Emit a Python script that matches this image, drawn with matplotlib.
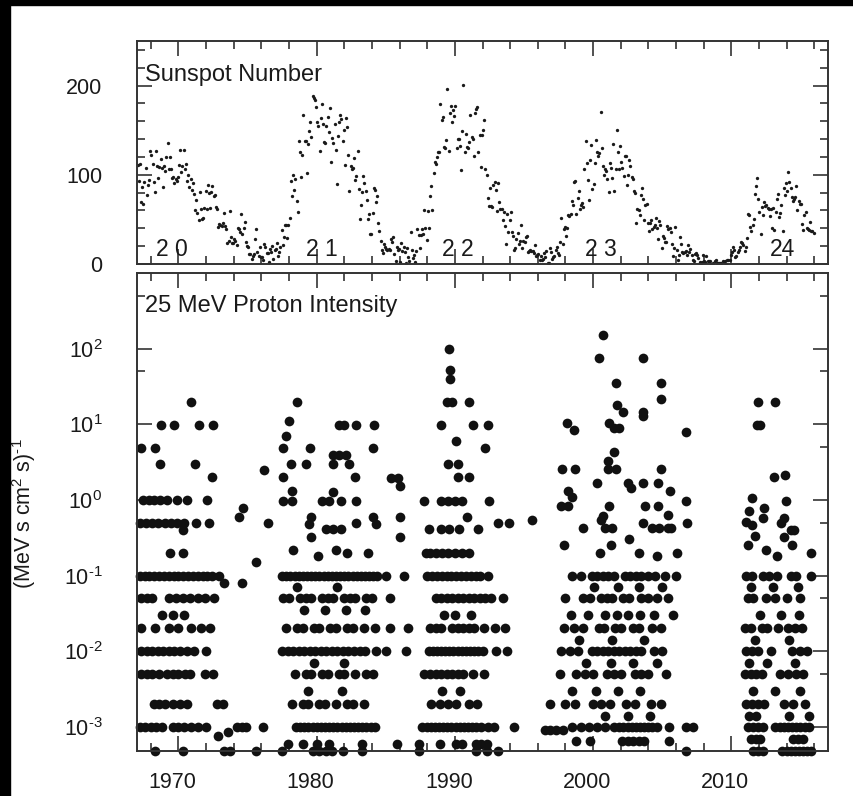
import numpy as np
import matplotlib.pyplot as plt
import matplotlib.transforms as mtransforms
from matplotlib.ticker import FixedLocator, MultipleLocator, NullFormatter
from matplotlib.patches import Rectangle

plt.rcParams['font.family'] = ['Liberation Sans', 'DejaVu Sans']
plt.rcParams['mathtext.fontset'] = 'custom'
plt.rcParams['mathtext.rm'] = 'Liberation Sans'
plt.rcParams['mathtext.it'] = 'Liberation Sans'

# monthly sunspot number, grouped by cycle (first month = January of start year)
ssn_c20_start = 1967
ssn_c20 = [110.9, 93.6, 111.8, 69.5, 86.5, 67.3, 91.5, 107.2, 76.8, 88.2, 94.3, 126.4,
           121.8, 111.9, 92.2, 81.2, 127.2, 110.3, 96.1, 109.3, 117.2, 107.7, 86.0, 109.8,
           104.4, 120.5, 135.8, 106.8, 120.0, 106.0, 96.8, 98.0, 91.3, 95.7, 93.5, 97.9,
           111.5, 127.8, 102.9, 109.5, 127.5, 106.8, 112.5, 93.0, 99.5, 86.6, 95.2, 83.5,
           91.3, 79.0, 60.7, 71.8, 57.5, 49.8, 81.0, 61.4, 50.2, 51.7, 63.2, 82.2,
           61.5, 88.4, 80.1, 63.2, 80.5, 88.0, 76.5, 76.8, 64.0, 61.3, 41.6, 45.3,
           43.4, 42.9, 46.0, 57.7, 42.4, 39.5, 23.1, 25.6, 59.3, 30.7, 23.9, 23.3,
           27.6, 26.0, 21.3, 40.3, 39.5, 36.0, 55.8, 33.6, 40.2, 47.1, 25.0, 20.5,
           18.9, 11.5, 11.5, 5.1, 9.0, 11.4, 28.2, 39.7, 13.9, 9.1, 19.4, 7.8,
           8.1, 4.3, 21.9, 18.8, 12.4, 12.2, 1.9, 16.4, 13.5, 20.6, 5.2, 15.3]
ssn_c21_start = 1977
ssn_c21 = [16.4, 23.1, 8.7, 12.9, 18.6, 38.5, 21.4, 30.1, 44.0, 43.8, 29.1, 43.2,
           51.9, 93.6, 76.5, 99.7, 82.7, 95.1, 70.4, 58.1, 138.2, 125.1, 97.9, 122.7,
           166.6, 137.5, 138.0, 101.5, 134.4, 149.5, 159.4, 142.2, 188.4, 186.2, 183.3, 176.3,
           159.6, 155.0, 126.2, 164.1, 179.9, 157.3, 136.3, 135.4, 155.0, 164.7, 147.9, 174.4,
           114.0, 141.3, 135.5, 156.4, 127.5, 90.0, 143.8, 158.7, 167.3, 162.4, 137.5, 150.1,
           111.2, 163.6, 153.8, 122.0, 82.2, 110.4, 106.1, 107.6, 118.8, 94.7, 98.1, 127.0,
           84.3, 51.0, 66.5, 80.7, 99.2, 91.1, 82.2, 71.8, 50.3, 55.8, 33.3, 33.4,
           57.0, 85.1, 83.5, 69.4, 76.4, 46.1, 37.4, 25.5, 15.7, 12.0, 22.8, 18.7,
           16.5, 15.9, 17.2, 16.2, 27.5, 24.2, 30.7, 11.1, 3.9, 18.6, 16.2, 17.3,
           2.5, 23.2, 15.1, 18.5, 13.7, 1.1, 18.1, 7.4, 3.8, 35.4, 15.2, 6.8]
ssn_c22_start = 1987
ssn_c22 = [10.4, 2.4, 14.7, 39.6, 33.0, 17.4, 33.0, 38.7, 33.9, 60.6, 39.9, 27.1,
           59.0, 40.0, 76.2, 88.0, 60.1, 101.8, 113.8, 111.6, 120.1, 125.1, 125.1, 179.2,
           161.3, 165.1, 131.4, 130.6, 138.5, 196.2, 126.9, 168.9, 176.7, 159.4, 173.0, 165.5,
           177.3, 130.5, 140.3, 140.3, 132.2, 105.4, 149.4, 200.3, 125.2, 145.5, 131.4, 129.7,
           136.9, 167.5, 141.9, 140.0, 121.3, 169.7, 173.7, 176.3, 125.3, 144.1, 108.2, 144.4,
           150.0, 161.1, 106.7, 99.8, 73.8, 65.2, 85.7, 64.5, 63.9, 88.7, 91.8, 82.6,
           59.3, 91.0, 69.8, 62.2, 61.3, 49.8, 57.9, 42.2, 22.4, 56.4, 35.6, 48.9,
           57.8, 35.5, 31.7, 16.1, 17.8, 28.0, 35.1, 22.5, 25.7, 44.0, 18.0, 26.2,
           24.2, 29.9, 31.1, 14.0, 14.5, 15.6, 14.5, 14.3, 11.8, 21.1, 9.0, 10.0,
           11.5, 4.4, 9.2, 4.8, 5.5, 11.8, 8.2, 14.4, 1.6, 0.9, 17.9, 13.3]
ssn_c23_start = 1997
ssn_c23 = [5.7, 7.6, 8.7, 15.5, 18.5, 12.7, 10.4, 24.4, 51.3, 22.8, 39.0, 41.2,
           31.9, 40.3, 54.8, 53.4, 56.3, 70.7, 66.6, 92.2, 92.9, 55.5, 74.0, 81.9,
           62.0, 66.3, 68.8, 63.7, 106.4, 137.7, 113.5, 93.7, 71.5, 116.7, 133.2, 84.6,
           90.1, 112.9, 138.5, 125.5, 121.6, 124.9, 170.1, 130.5, 109.7, 99.4, 106.8, 104.4,
           95.6, 80.6, 113.5, 107.7, 96.6, 134.0, 81.8, 106.4, 150.7, 125.5, 106.5, 132.2,
           114.1, 107.4, 98.4, 120.7, 120.8, 88.3, 99.6, 116.4, 109.6, 97.5, 95.0, 81.6,
           79.5, 46.2, 61.5, 60.0, 55.2, 77.4, 85.0, 72.7, 48.8, 65.6, 67.2, 46.5,
           37.3, 45.8, 49.1, 39.3, 41.5, 43.2, 51.1, 40.9, 27.7, 48.0, 43.5, 17.9,
           31.3, 29.2, 24.5, 24.2, 42.7, 39.3, 40.1, 36.4, 21.9, 8.7, 18.0, 41.2,
           15.3, 4.9, 10.6, 30.2, 22.3, 13.9, 12.0, 12.9, 14.4, 10.5, 21.4, 13.6,
           16.9, 10.6, 4.8, 3.7, 11.7, 12.0, 10.0, 6.2, 2.4, 0.9, 1.7, 10.1,
           3.3, 2.1, 9.3, 2.9, 3.2, 3.4, 0.5, 0.5, 1.1, 2.9, 4.1, 0.8]
ssn_c24_start = 2009
ssn_c24 = [1.5, 1.4, 0.7, 1.2, 2.9, 2.6, 3.5, 0.0, 4.2, 4.6, 4.2, 10.6,
           13.1, 18.6, 15.4, 7.9, 8.8, 13.5, 16.1, 19.6, 25.2, 23.5, 21.6, 14.5,
           19.0, 29.4, 56.2, 54.4, 41.6, 37.0, 43.9, 50.6, 78.0, 88.0, 96.7, 73.0,
           58.3, 33.1, 64.2, 55.2, 69.0, 64.5, 66.5, 63.0, 61.4, 53.3, 61.8, 40.8,
           62.9, 38.1, 57.9, 72.4, 78.7, 52.5, 57.0, 66.0, 37.0, 85.6, 77.6, 90.3,
           82.0, 102.8, 92.2, 84.7, 75.2, 71.0, 72.4, 74.6, 87.6, 60.6, 70.1, 67.3,
           67.0, 44.8, 38.4, 54.4, 58.8, 40.0, 39.5, 38.6, 47.0, 37.0, 37.2, 34.6]

cycle_labels = ['2 0', '2 1', '2 2', '2 3', '24']
cycle_label_years = [1969.5, 1980.4, 1990.2, 2000.6, 2013.7]

# 25 MeV proton event intensities as (year, intensity); 0.00048 sits on the lower axis
p20 = [(1970.9, 19.6), (1968.75, 9.9), (1969.7, 9.9), (1971.5, 9.9), (1972.5, 9.9),
       (1967.3, 4.9), (1968.3, 4.9), (1968.7, 3.0), (1971.2, 3.0), (1972.4, 2.0),
       (1974.65, 0.79), (1974.4, 0.59),
       (1967.4, 1), (1967.85, 1), (1968.25, 1), (1968.7, 1), (1969.2, 1), (1969.9, 1), (1970.65, 1), (1972.1, 1),
       (1967.2, 0.5), (1967.65, 0.5), (1968.1, 0.5), (1968.55, 0.5), (1969.0, 0.5), (1969.45, 0.5),
       (1969.9, 0.5), (1970.4, 0.5), (1971.3, 0.5), (1972.2, 0.5), (1970.35, 0.4),
       (1969.4, 0.2), (1970.3, 0.2),
       (1967.2, 0.1), (1967.55, 0.1), (1967.9, 0.1), (1968.25, 0.1), (1968.6, 0.1), (1968.95, 0.1),
       (1969.3, 0.1), (1969.65, 0.1), (1970.0, 0.1), (1970.35, 0.1), (1970.7, 0.1), (1971.05, 0.1),
       (1971.4, 0.1), (1971.75, 0.1), (1972.1, 0.1), (1972.45, 0.1), (1972.9, 0.1),
       (1973.3, 0.08), (1974.6, 0.08), (1975.6, 0.15),
       (1967.3, 0.05), (1967.7, 0.05), (1968.1, 0.05), (1969.3, 0.05), (1969.8, 0.05), (1970.3, 0.05),
       (1970.8, 0.05), (1971.4, 0.05), (1971.9, 0.05), (1972.6, 0.05),
       (1968.8, 0.03), (1969.6, 0.03), (1970.4, 0.03),
       (1967.3, 0.02), (1968.3, 0.02), (1969.3, 0.02), (1970.0, 0.02), (1970.9, 0.02), (1971.6, 0.02), (1972.3, 0.02),
       (1967.3, 0.01), (1967.7, 0.01), (1968.1, 0.01), (1968.5, 0.01), (1968.9, 0.01), (1969.3, 0.01),
       (1969.7, 0.01), (1970.1, 0.01), (1970.6, 0.01), (1971.1, 0.01), (1972.0, 0.01),
       (1967.3, 0.005), (1967.7, 0.005), (1968.1, 0.005), (1968.6, 0.005), (1969.2, 0.005), (1969.6, 0.005),
       (1970.0, 0.005), (1970.5, 0.005), (1970.8, 0.005), (1971.9, 0.005), (1972.5, 0.005),
       (1968.2, 0.002), (1968.6, 0.002), (1969.0, 0.002), (1969.6, 0.002), (1970.1, 0.002), (1970.6, 0.002),
       (1972.8, 0.002), (1973.2, 0.002),
       (1967.2, 0.001), (1967.6, 0.001), (1968.0, 0.001), (1968.4, 0.001), (1968.8, 0.001), (1969.6, 0.001),
       (1970.0, 0.001), (1970.4, 0.001), (1970.9, 0.001), (1971.4, 0.001), (1972.0, 0.001), (1974.2, 0.001),
       (1974.6, 0.001), (1974.9, 0.001), (1976.1, 0.001),
       (1972.85, 0.00075), (1973.55, 0.00085),
       (1968.3, 0.00048), (1970.3, 0.00048), (1973.3, 0.00048), (1973.7, 0.00048), (1975.6, 0.00048)]

p21 = [(1976.2, 2.5), (1976.45, 0.5), (1978.6, 19.6), (1978.0, 10.9), (1977.8, 7.1), (1977.6, 4.87),
       (1979.5, 4.87), (1978.15, 3.0), (1979.2, 3.0), (1977.55, 2.0), (1978.2, 1.3),
       (1977.55, 0.97), (1978.25, 0.97), (1980.4, 0.97), (1980.9, 0.97), (1981.75, 0.97), (1982.85, 0.97),
       (1981.2, 3.96), (1981.65, 3.96), (1982.1, 3.96), (1981.2, 3.0), (1982.35, 3.0), (1981.2, 1.26),
       (1981.65, 9.9), (1982.0, 9.9), (1982.85, 9.9), (1984.15, 9.9), (1984.05, 4.87), (1982.8, 2.0),
       (1985.85, 1.95), (1985.4, 1.95), (1986.0, 1.51), (1986.0, 0.59),
       (1979.6, 0.59), (1979.45, 0.48), (1980.7, 0.41), (1981.2, 0.41), (1981.75, 0.41), (1982.85, 0.5),
       (1984.05, 0.59), (1984.3, 0.48), (1979.6, 0.32), (1986.0, 0.32),
       (1978.3, 0.22), (1980.1, 0.18), (1981.4, 0.22), (1982.2, 0.2), (1983.7, 0.2), (1986.3, 0.1),
       (1977.5, 0.1), (1977.8, 0.1), (1978.1, 0.1), (1978.4, 0.1), (1978.7, 0.1), (1979.0, 0.1), (1979.3, 0.1),
       (1979.6, 0.1), (1979.9, 0.1), (1980.2, 0.1), (1980.5, 0.1), (1980.8, 0.1), (1981.1, 0.1), (1981.4, 0.1),
       (1981.7, 0.1), (1982.0, 0.1), (1982.3, 0.1), (1982.6, 0.1), (1982.9, 0.1), (1983.2, 0.1), (1983.5, 0.1),
       (1983.8, 0.1), (1984.1, 0.1), (1984.4, 0.1), (1985.0, 0.1),
       (1978.6, 0.07), (1981.5, 0.07),
       (1977.6, 0.05), (1978.0, 0.05), (1978.8, 0.05), (1979.2, 0.05), (1979.6, 0.05),
       (1980.4, 0.05), (1980.8, 0.05), (1981.2, 0.05), (1982.0, 0.05),
       (1982.4, 0.05), (1982.8, 0.05), (1983.6, 0.05), (1984.0, 0.05), (1985.3, 0.05),
       (1979.1, 0.035), (1980.6, 0.035), (1982.1, 0.035), (1983.5, 0.035),
       (1977.8, 0.02), (1978.6, 0.02), (1979.0, 0.02), (1979.8, 0.02),
       (1980.2, 0.02), (1981.0, 0.02), (1981.4, 0.02), (1982.2, 0.02),
       (1982.6, 0.02), (1983.4, 0.02), (1984.2, 0.02), (1985.3, 0.02), (1986.6, 0.02),
       (1977.5, 0.01), (1977.9, 0.01), (1978.3, 0.01), (1978.7, 0.01), (1979.1, 0.01), (1979.5, 0.01),
       (1979.9, 0.01), (1980.3, 0.01), (1980.7, 0.01), (1981.1, 0.01), (1981.5, 0.01), (1981.9, 0.01),
       (1982.3, 0.01), (1982.7, 0.01), (1983.1, 0.01), (1983.5, 0.01), (1984.3, 0.01),
       (1985.0, 0.01), (1986.5, 0.01),
       (1979.8, 0.007), (1982.0, 0.007),
       (1978.4, 0.005), (1979.2, 0.005), (1979.6, 0.005), (1980.4, 0.005), (1980.8, 0.005),
       (1981.6, 0.005), (1982.0, 0.005), (1982.8, 0.005), (1983.6, 0.005), (1984.1, 0.005),
       (1979.4, 0.003), (1981.8, 0.003),
       (1978.2, 0.002), (1979.0, 0.002), (1979.4, 0.002), (1980.2, 0.002),
       (1980.6, 0.002), (1981.4, 0.002), (1982.2, 0.002), (1982.6, 0.002), (1983.4, 0.002),
       (1978.5, 0.001), (1978.8, 0.001), (1979.1, 0.001), (1979.4, 0.001), (1979.7, 0.001), (1980.0, 0.001),
       (1980.3, 0.001), (1980.6, 0.001), (1980.9, 0.001), (1981.2, 0.001), (1981.5, 0.001), (1981.8, 0.001),
       (1982.1, 0.001), (1982.4, 0.001), (1982.7, 0.001), (1983.0, 0.001), (1983.3, 0.001), (1983.6, 0.001),
       (1983.9, 0.001), (1984.2, 0.001),
       (1977.9, 0.0006), (1979.0, 0.0006), (1980.0, 0.0006), (1980.9, 0.0006), (1983.3, 0.0006),
       (1977.5, 0.00048), (1979.7, 0.00048), (1980.2, 0.00048), (1980.7, 0.00048), (1981.1, 0.00048),
       (1981.9, 0.00048), (1983.3, 0.00048)]

p22 = [(1989.6, 100), (1989.65, 51.5), (1989.65, 40), (1989.45, 19.6), (1989.8, 19.6), (1991.0, 19.6),
       (1989.0, 9.9), (1991.3, 9.9), (1992.4, 9.9), (1990.1, 6.0), (1989.5, 3.0), (1990.2, 3.0),
       (1990.2, 2.0), (1991.0, 2.0), (1992.2, 4.87),
       (1987.8, 0.97), (1989.0, 0.97), (1989.5, 0.97), (1990.0, 0.97), (1990.55, 0.97), (1992.5, 0.97),
       (1990.9, 0.59), (1988.15, 0.41), (1989.0, 0.41), (1989.6, 0.41), (1990.3, 0.41), (1991.7, 0.41),
       (1993.1, 0.49), (1993.9, 0.49), (1995.6, 0.54),
       (1987.9, 0.2), (1988.2, 0.2), (1988.6, 0.2), (1989.1, 0.2), (1989.5, 0.2), (1990.0, 0.2), (1990.5, 0.2),
       (1991.0, 0.2),
       (1988.0, 0.1), (1988.35, 0.1), (1988.7, 0.1), (1989.05, 0.1), (1989.4, 0.1), (1989.75, 0.1),
       (1990.1, 0.1), (1990.45, 0.1), (1990.8, 0.1), (1991.15, 0.1), (1991.5, 0.1), (1991.85, 0.1), (1992.4, 0.1),
       (1988.6, 0.05), (1989.0, 0.05), (1989.4, 0.05), (1989.8, 0.05), (1990.2, 0.05), (1990.6, 0.05),
       (1991.0, 0.05), (1991.4, 0.05), (1991.8, 0.05), (1992.2, 0.05), (1992.6, 0.05), (1993.5, 0.05),
       (1989.2, 0.03), (1990.0, 0.03), (1991.2, 0.03),
       (1988.2, 0.02), (1988.6, 0.02), (1989.0, 0.02), (1989.8, 0.02), (1990.2, 0.02), (1990.6, 0.02),
       (1991.0, 0.02), (1991.4, 0.02), (1992.1, 0.02), (1992.9, 0.02), (1993.6, 0.02),
       (1988.1, 0.01), (1988.4, 0.01), (1988.7, 0.01), (1989.0, 0.01), (1989.3, 0.01), (1989.6, 0.01),
       (1989.9, 0.01), (1990.2, 0.01), (1990.5, 0.01), (1990.8, 0.01), (1991.1, 0.01), (1991.4, 0.01),
       (1991.7, 0.01), (1992.0, 0.01), (1993.0, 0.01), (1993.8, 0.01),
       (1987.8, 0.005), (1988.2, 0.005), (1988.6, 0.005), (1989.0, 0.005), (1989.4, 0.005), (1989.8, 0.005),
       (1990.2, 0.005), (1990.6, 0.005), (1991.3, 0.005), (1992.1, 0.005),
       (1989.1, 0.003), (1990.4, 0.003),
       (1988.3, 0.002), (1988.9, 0.002), (1989.5, 0.002), (1990.1, 0.002), (1991.0, 0.002), (1991.6, 0.002),
       (1987.65, 0.001), (1987.95, 0.001), (1988.25, 0.001), (1988.55, 0.001), (1988.85, 0.001),
       (1989.15, 0.001), (1989.45, 0.001), (1989.75, 0.001), (1990.05, 0.001), (1990.35, 0.001),
       (1990.65, 0.001), (1990.95, 0.001), (1991.25, 0.001), (1991.55, 0.001), (1991.9, 0.001),
       (1992.4, 0.001), (1992.8, 0.001), (1994.3, 0.001),
       (1985.8, 0.0006), (1987.4, 0.0006), (1988.9, 0.0006), (1990.1, 0.0006), (1990.5, 0.0006),
       (1991.5, 0.0006), (1991.9, 0.0006), (1992.3, 0.0006),
       (1987.4, 0.00048), (1991.5, 0.00048), (1992.3, 0.00048), (1993.1, 0.00048)]

p23 = [(2000.7, 150), (2000.4, 75), (2003.6, 75), (2001.65, 35.4), (2004.9, 35.4), (2004.9, 21.3),
       (2001.75, 18.1), (2002.2, 14.7), (2003.6, 14.7), (2003.6, 12.8), (1998.1, 10.4), (1998.6, 8.5),
       (2001.15, 10.4), (2001.55, 8.9), (2001.85, 8.9), (2001.5, 4.26), (2001.1, 3.3), (2001.1, 2.56),
       (2001.65, 2.56), (1997.75, 2.56), (1998.7, 2.56), (2000.25, 1.67), (2002.5, 1.67), (2002.75, 1.46),
       (2003.6, 1.67), (2004.7, 1.67), (2004.9, 2.56), (2005.55, 1.3), (2006.75, 7.9),
       (1998.2, 1.32), (1998.45, 1.08), (1997.65, 0.835), (1998.2, 0.835), (2001.15, 0.835),
       (2003.75, 0.835), (2004.7, 0.835), (2006.75, 0.97), (2005.4, 0.634), (2006.8, 0.49), (2003.6, 0.49),
       (1999.3, 0.42), (2000.7, 0.615), (2000.55, 0.544), (2000.9, 0.42), (2001.35, 0.42),
       (2004.3, 0.42), (2004.8, 0.42), (2005.4, 0.42), (2005.65, 0.42),
       (1997.9, 0.25), (2000.5, 0.2), (2001.3, 0.25), (2002.6, 0.3),
       (2003.3, 0.2), (2004.6, 0.18), (2006.1, 0.2),
       (1998.5, 0.1), (1999.1, 0.1), (1999.9, 0.1), (2000.3, 0.1),
       (2000.7, 0.1), (2001.1, 0.1), (2001.5, 0.1), (2002.3, 0.1), (2002.7, 0.1),
       (2003.1, 0.1), (2003.5, 0.1), (2004.0, 0.1), (2004.5, 0.1), (2005.2, 0.1), (2006.0, 0.1),
       (2000.1, 0.07), (2001.8, 0.07), (2003.3, 0.07), (2005.0, 0.07),
       (1998.0, 0.05), (1999.3, 0.05), (1999.8, 0.05), (2000.6, 0.05),
       (2001.0, 0.05), (2001.4, 0.05), (2002.2, 0.05), (2002.6, 0.05),
       (2003.5, 0.05), (2004.0, 0.05), (2004.6, 0.05), (2005.4, 0.05),
       (1998.4, 0.03), (1999.6, 0.03), (2000.9, 0.03), (2001.7, 0.03),
       (2002.5, 0.03), (2003.4, 0.03), (2004.4, 0.03), (2005.8, 0.03),
       (1997.9, 0.02), (1998.6, 0.02), (1999.3, 0.02), (2000.4, 0.02), (2000.8, 0.02),
       (2001.6, 0.02), (2002.0, 0.02), (2002.9, 0.02), (2003.3, 0.02),
       (2004.3, 0.02), (2004.9, 0.02),
       (1999.0, 0.014), (2001.4, 0.014), (2003.7, 0.014),
       (1997.7, 0.01), (1998.3, 0.01), (1998.9, 0.01), (1999.9, 0.01), (2000.3, 0.01),
       (2000.7, 0.01), (2001.1, 0.01), (2001.5, 0.01), (2001.9, 0.01), (2002.3, 0.01), (2002.7, 0.01),
       (2003.1, 0.01), (2003.5, 0.01), (2004.4, 0.01), (2005.0, 0.01),
       (1999.5, 0.007), (2001.3, 0.007), (2002.9, 0.007), (2004.6, 0.007),
       (1997.6, 0.005), (1998.8, 0.005), (1999.4, 0.005), (2000.0, 0.005),
       (2001.0, 0.005), (2001.5, 0.005), (2002.0, 0.005), (2003.0, 0.005), (2003.5, 0.005),
       (2004.0, 0.005), (2005.3, 0.005),
       (1998.5, 0.003), (2000.2, 0.003), (2001.8, 0.003), (2003.4, 0.003),
       (1996.9, 0.002), (1998.0, 0.002), (1998.7, 0.002), (2000.0, 0.002),
       (2000.6, 0.002), (2001.2, 0.002), (2002.4, 0.002), (2003.0, 0.002),
       (2004.2, 0.002), (2004.9, 0.002),
       (2000.9, 0.0014), (2002.5, 0.0014), (2004.1, 0.0014),
       (1996.5, 0.0009), (1996.9, 0.0009), (1997.3, 0.0009), (1997.8, 0.0009),
       (1998.5, 0.001), (1999.1, 0.001), (1999.7, 0.001), (2000.3, 0.001), (2000.9, 0.001),
       (2001.5, 0.001), (2001.9, 0.001), (2002.2, 0.001), (2002.5, 0.001), (2002.8, 0.001), (2003.1, 0.001),
       (2003.4, 0.001), (2003.7, 0.001), (2004.0, 0.001), (2004.3, 0.001), (2004.6, 0.001), (2005.5, 0.001),
       (2006.7, 0.001), (2007.2, 0.001),
       (1998.8, 0.00065), (1999.8, 0.00065), (2002.1, 0.00065), (2002.5, 0.00065), (2002.9, 0.00065),
       (2003.3, 0.00065), (2003.7, 0.00065), (2005.5, 0.00065),
       (2006.7, 0.00048)]

p24 = [(2011.95, 19.6), (2013.2, 19.6), (2011.85, 9.9), (2012.1, 9.9), (2013.1, 2.0), (2013.9, 2.15),
       (2011.5, 1.06), (2013.95, 0.97), (2011.3, 0.716), (2012.35, 0.79), (2012.3, 0.586), (2013.8, 0.586),
       (2011.05, 0.513), (2011.5, 0.463), (2013.6, 0.49), (2014.3, 0.4), (2014.55, 0.4),
       (2011.75, 0.334), (2013.8, 0.321),
       (2011.2, 0.25), (2012.5, 0.22), (2013.3, 0.18), (2014.4, 0.25), (2015.75, 0.2),
       (2011.1, 0.1), (2011.5, 0.1), (2012.3, 0.1), (2012.7, 0.1), (2013.3, 0.1),
       (2014.3, 0.1), (2014.7, 0.1), (2015.8, 0.1),
       (2011.4, 0.07), (2013.0, 0.07), (2014.8, 0.07),
       (2011.2, 0.05), (2011.6, 0.05), (2012.5, 0.05), (2013.2, 0.05), (2014.0, 0.05), (2015.0, 0.05),
       (2012.1, 0.03), (2013.6, 0.03), (2014.9, 0.03),
       (2011.0, 0.02), (2011.4, 0.02), (2012.2, 0.02), (2012.6, 0.02), (2013.4, 0.02),
       (2014.1, 0.02), (2014.6, 0.02), (2015.1, 0.02),
       (2011.7, 0.014), (2014.2, 0.014),
       (2011.1, 0.01), (2011.5, 0.01), (2011.9, 0.01), (2012.9, 0.01),
       (2014.4, 0.01), (2015.0, 0.01), (2015.5, 0.01),
       (2011.3, 0.007), (2012.6, 0.007), (2014.6, 0.007),
       (2011.0, 0.005), (2011.4, 0.005), (2011.8, 0.005), (2012.2, 0.005), (2013.5, 0.005),
       (2014.1, 0.005), (2014.7, 0.005), (2015.2, 0.005),
       (2011.6, 0.003), (2013.2, 0.003), (2015.0, 0.003),
       (2011.1, 0.002), (2011.5, 0.002), (2011.9, 0.002), (2012.4, 0.002), (2013.8, 0.002),
       (2014.5, 0.002), (2015.3, 0.002),
       (2011.3, 0.0014), (2011.8, 0.0014), (2014.2, 0.0014), (2015.6, 0.0014),
       (2011.2, 0.001), (2011.6, 0.001), (2011.9, 0.001), (2012.3, 0.001), (2013.2, 0.001), (2013.5, 0.001),
       (2013.8, 0.001), (2014.1, 0.001), (2014.4, 0.001), (2014.7, 0.001), (2015.0, 0.001), (2015.3, 0.001),
       (2015.6, 0.001),
       (2011.4, 0.0007), (2011.8, 0.0007), (2012.1, 0.0007), (2014.5, 0.0007), (2014.8, 0.0007),
       (2015.2, 0.0007),
       (2011.6, 0.00048), (2011.9, 0.00048), (2012.3, 0.00048), (2013.7, 0.00048), (2014.0, 0.00048),
       (2014.3, 0.00048), (2014.6, 0.00048), (2014.9, 0.00048), (2015.2, 0.00048), (2015.5, 0.00048),
       (2015.8, 0.00048)]

year_ticks = [1970, 1980, 1990, 2000, 2010]
flux_ticks = [1e2, 1e1, 1e0, 1e-1, 1e-2, 1e-3]
flux_tick_labels = ['$10^{2}$', '$10^{1}$', '$10^{0}$', r'$10^{\text{-}1}$', r'$10^{\text{-}2}$',
                    r'$10^{\text{-}3}$']

W, H = 854, 796
fig = plt.figure(figsize=(W / 100, H / 100), dpi=100)
fig.patch.set_facecolor('white')

ax1 = fig.add_axes([137 / W, 1 - 264 / H, 691 / W, 223 / H])
ax2 = fig.add_axes([137 / W, 1 - 751 / H, 691 / W, 478 / H])

ink = '#1a1a1a'
spine_c = '#333333'

# sunspot panel
for start, vals in [(ssn_c20_start, ssn_c20), (ssn_c21_start, ssn_c21), (ssn_c22_start, ssn_c22),
                    (ssn_c23_start, ssn_c23), (ssn_c24_start, ssn_c24)]:
    t = start + (np.arange(len(vals)) + 0.5) / 12
    ax1.plot(t, vals, 'o', ms=2.4, color=ink, mec='none')

ax1.set_ylim(0, 250)
ax1.set_yticks([0, 100, 200])
ax1.yaxis.set_minor_locator(MultipleLocator(20))
ax1.text(0.012, 0.82, 'Sunspot Number', transform=ax1.transAxes, fontsize=17, color=ink, va='baseline')
for lab, yr in zip(cycle_labels, cycle_label_years):
    ax1.text(yr, 9, lab, fontsize=16.5, color=ink, ha='center', va='baseline')

# proton panel
for events in (p20, p21, p22, p23, p24):
    yrs, fl = np.array(events).T
    ax2.plot(yrs, fl, 'o', ms=7.0, color='#111111', mec='none', clip_on=False)

ax2.set_yscale('log')
ax2.set_ylim(4.8e-4, 1.0e3)
ax2.yaxis.set_major_locator(FixedLocator(flux_ticks))
ax2.set_yticklabels(flux_tick_labels)
ax2.yaxis.set_minor_locator(FixedLocator([5e-3, 5e-2, 5e-1, 5, 50, 500]))
ax2.yaxis.set_minor_formatter(NullFormatter())
ax2.text(0.012, 0.918, '25 MeV Proton Intensity', transform=ax2.transAxes, fontsize=17,
         color=ink, va='baseline')

for ax in (ax1, ax2):
    ax.set_xlim(1967, 2017)
    ax.set_xticks(year_ticks)
    ax.xaxis.set_minor_locator(MultipleLocator(2))
    ax.tick_params(which='both', direction='in', top=True, right=True, colors=spine_c,
                   labelcolor=ink, width=1.2)
    ax.tick_params(which='major', length=11)
    ax.tick_params(which='minor', length=5.5)
    ax.tick_params(axis='y', labelsize=15.5, pad=25)
    ax.tick_params(axis='x', labelsize=15.5, pad=15)
    for s in ax.spines.values():
        s.set_color(spine_c)
        s.set_linewidth(1.4)

ax1.tick_params(axis='x', labelbottom=False)

# tick labels in the original sit a little left of their ticks
shift = mtransforms.ScaledTranslation(-6 / 100, 0, fig.dpi_scale_trans)
for lab in ax2.get_xticklabels():
    lab.set_transform(lab.get_transform() + shift)

fig.text(24 / W, 1 - 514 / H, r'(MeV s cm$^{2}$ s)$^{\text{-}1}$', rotation=90, fontsize=15.5,
         color=ink, ha='center', va='center')

# black frame strips of the scanned figure
fig.add_artist(Rectangle((0, 0), 10 / W, 1, transform=fig.transFigure, color='black', zorder=10))
fig.add_artist(Rectangle((0, 1 - 5 / H), 1, 5 / H, transform=fig.transFigure, color='black', zorder=10))

fig.savefig('out.png', dpi=100, facecolor='white')
